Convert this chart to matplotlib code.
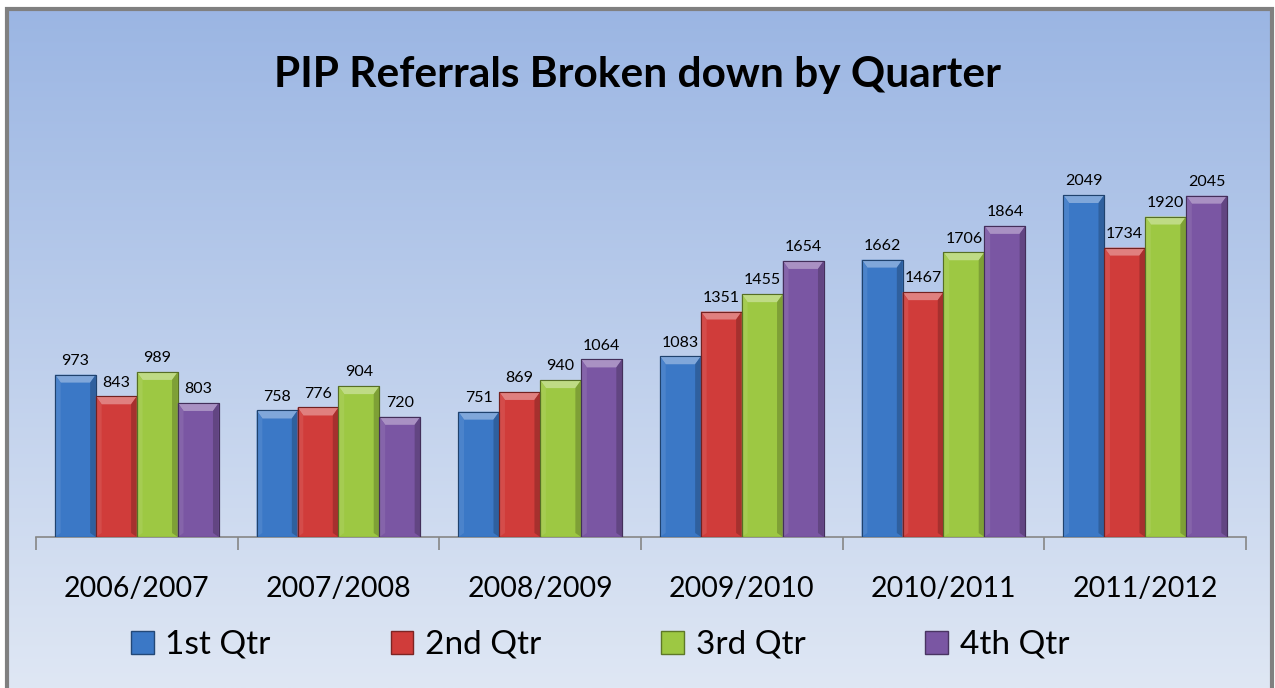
import numpy as np
import matplotlib
matplotlib.use("Agg")
import matplotlib.pyplot as plt
from matplotlib.patches import Polygon, Rectangle
import matplotlib.colors as mcolors

categories = ["2006/2007", "2007/2008", "2008/2009", "2009/2010", "2010/2011", "2011/2012"]
series_names = ["1st Qtr", "2nd Qtr", "3rd Qtr", "4th Qtr"]
q1 = [973, 758, 751, 1083, 1662, 2049]
q2 = [843, 776, 869, 1351, 1467, 1734]
q3 = [989, 904, 940, 1455, 1706, 1920]
q4 = [803, 720, 1064, 1654, 1864, 2045]
series_values = [q1, q2, q3, q4]
colors = ["#3B78C6", "#D03C3A", "#9DC843", "#7A56A3"]

plt.rcParams['font.family'] = ['Lato', 'DejaVu Sans']

W, H = 1275, 688
fig = plt.figure(figsize=(W / 100, H / 100), dpi=100)

# background gradient
bg = fig.add_axes([0, 0, 1, 1], zorder=-10)
bg.set_axis_off()
top = np.array(mcolors.to_rgb("#9AB5E3"))
bot = np.array(mcolors.to_rgb("#DFE7F4"))
t = np.linspace(0, 1, 256)[:, None]
grad = (top * (1 - t) + bot * t)[:, None, :].repeat(2, axis=1)
bg.imshow(grad, aspect='auto', extent=[0, 1, 0, 1], origin='upper')
bg.set_xlim(0, 1)
bg.set_ylim(0, 1)
fig.patches.append(Rectangle((7 / W, -0.01), (1265) / W, (H - 9) / H + 0.01,
                             transform=fig.transFigure, fill=False,
                             edgecolor="#808080", linewidth=3, zorder=5))
fig.patches.append(Rectangle((0, (H - 8) / H), 1, 8 / H, transform=fig.transFigure,
                             facecolor="white", edgecolor="none", zorder=4))
fig.patches.append(Rectangle((0, 0), 6 / W, 1, transform=fig.transFigure,
                             facecolor="white", edgecolor="none", zorder=4))
fig.patches.append(Rectangle((1 - 2 / W, 0), 2 / W, 1, transform=fig.transFigure,
                             facecolor="white", edgecolor="none", zorder=4))

# plot area: x 36..1246, baseline y=537
ymax = 2500
px_per = (537 - 195) / 2049
ax_h = ymax * px_per
ax = fig.add_axes([36 / W, (H - 537) / H, (1246 - 36) / W, ax_h / H])
ax.set_facecolor("none")
n = len(categories)
x = np.arange(n)
bw = 0.203
offsets = (np.arange(4) - 1.5) * bw

def shade(c, f):
    c = np.array(mcolors.to_rgb(c))
    if f >= 0:
        return tuple(c + (1 - c) * f)
    return tuple(c * (1 + f))

for i, (vals, col) in enumerate(zip(series_values, colors)):
    bars = ax.bar(x + offsets[i], vals, width=bw, color=col,
                  edgecolor=shade(col, -0.45), linewidth=0.8, zorder=3,
                  label=series_names[i])
    for b, v in zip(bars, vals):
        bx, by = b.get_x(), b.get_y()
        w, h = b.get_width(), b.get_height()
        bev_x = w * 0.14
        bev_y = 8 / px_per
        ax.add_patch(Polygon([(bx, by + h), (bx + w, by + h),
                              (bx + w - bev_x, by + h - bev_y),
                              (bx + bev_x, by + h - bev_y)],
                             closed=True, facecolor=shade(col, 0.35),
                             edgecolor='none', zorder=4))
        ax.add_patch(Polygon([(bx, by), (bx, by + h), (bx + bev_x, by + h - bev_y),
                              (bx + bev_x, by + bev_y * 0.5)],
                             closed=True, facecolor=shade(col, 0.08),
                             edgecolor='none', zorder=4))
        ax.add_patch(Polygon([(bx + w, by), (bx + w, by + h),
                              (bx + w - bev_x, by + h - bev_y),
                              (bx + w - bev_x, by + bev_y * 0.5)],
                             closed=True, facecolor=shade(col, -0.2),
                             edgecolor='none', zorder=4))
        ax.add_patch(Rectangle((bx, by), w, h, fill=False,
                               edgecolor=shade(col, -0.45), linewidth=0.8, zorder=5))
        ax.text(bx + w / 2, v + 40, f"{v}", ha='center', va='bottom',
                fontsize=11.5, color='black', zorder=6)

ax.set_xlim(-0.5, n - 0.5)
ax.set_ylim(0, ymax)
ax.set_yticks([])
for s in ["top", "right", "left"]:
    ax.spines[s].set_visible(False)
ax.spines["bottom"].set_color("#868686")
ax.spines["bottom"].set_linewidth(1.2)
ax.set_xticks(np.arange(n + 1) - 0.5, minor=True)
ax.tick_params(axis='x', which='minor', length=9, color="#868686", width=1.2)
ax.tick_params(axis='x', which='major', length=0, pad=28, labelsize=20.5)
ax.set_xticks(x)
ax.set_xticklabels(categories)

fig.text(0.5, (H - 75) / H, "PIP Referrals Broken down by Quarter",
         ha='center', va='center', fontsize=30.5, fontweight='bold')

handles = [Rectangle((0, 0), 1, 1, facecolor=c, edgecolor=shade(c, -0.4)) for c in colors]
leg = fig.legend(handles, series_names, loc='center', bbox_to_anchor=(600 / W, (H - 645) / H),
                 ncol=4, frameon=False, fontsize=24, handlelength=0.68, handleheight=0.68,
                 columnspacing=3.6, handletextpad=0.35)

fig.savefig("out.png", dpi=100)
